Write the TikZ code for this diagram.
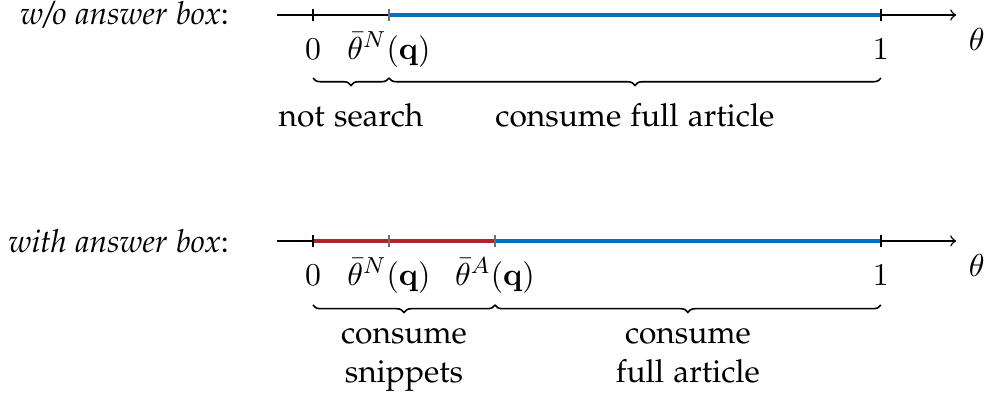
\documentclass[tikz,border=0pt,11pt]{standalone}
\usepackage[T1]{fontenc}
\renewcommand{\rmdefault}{pplx}
\usepackage{xcolor}
\definecolor{fullblue}{RGB}{0,114,189}
\definecolor{snipred}{RGB}{170,40,50}
\definecolor{tickgray}{RGB}{110,110,110}
\usepackage{tikz}
\usetikzlibrary{positioning,decorations.pathreplacing}
\tikzset{
  %% Axis and segments
  axline/.style={draw=black, line width=0.5pt},
  fullseg/.style={draw=fullblue, line width=1.1pt},
  snipseg/.style={draw=snipred, line width=1.1pt},
  %% Ticks and labels
  axtick/.style={draw=black, line width=0.45pt},
  innertick/.style={draw=tickgray, line width=0.45pt},
  ticklbl/.style={anchor=base, inner sep=0pt, yshift=-0.535cm},
  varlbl/.style={anchor=base, inner sep=0pt, yshift=-0.43cm},
  rowlbl/.style={anchor=east, inner sep=0pt},
  %% Braces underneath
  brc/.style={decorate, decoration={brace, mirror, amplitude=0.09cm},
              line width=0.55pt},
  bracelbl/.style={anchor=base, align=center, inner sep=0pt},
}

\begin{document}
\begin{tikzpicture}
\useasboundingbox (0,0) rectangle (11.94,4.836);

%% Row 1: without answer box
\node[rowlbl] (rowA) at (2.78,4.654) {\textit{w/o answer box}:};
\coordinate (startA) at (3.357,4.654);
\coordinate (zeroA)  at (3.794,4.654);
\coordinate (nA)     at (4.715,4.654);
\coordinate (oneA)   at (10.678,4.654);
\coordinate (endA)   at (11.590,4.654);
\draw[axline,->] (startA) -- (endA);
\draw[fullseg] (nA) -- (oneA);
\foreach \p/\s in {zeroA/axtick, nA/innertick, oneA/axtick}
  \draw[\s] ([yshift=-0.075cm]\p) -- ([yshift=0.075cm]\p);
\node[ticklbl] (zeroAl) at (zeroA) {$0$};
\node[ticklbl] (nAl)    at (nA)    {$\bar{\theta}^N(\mathbf{q})$};
\node[ticklbl] (oneAl)  at (oneA)  {$1$};
\node[varlbl]  (thetaA) at (11.84,4.654) {$\theta$};
% braces
\coordinate (bA0) at (3.794,3.890);
\coordinate (bA1) at (4.715,3.890);
\coordinate (bA2) at (10.678,3.890);
\draw[brc] (bA0) -- (bA1);
\draw[brc] (bA1) -- (bA2);
\node[bracelbl] (noSearch) at (4.255,3.297) {not search};
\node[bracelbl] (fullA)    at (7.697,3.297) {consume full article};

%% Row 2: with answer box
\node[rowlbl] (rowB) at (2.78,1.915) {\textit{with answer box}:};
\coordinate (startB) at (3.357,1.915);
\coordinate (zeroB)  at (3.794,1.915);
\coordinate (nB)     at (4.715,1.915);
\coordinate (aB)     at (6.000,1.915);
\coordinate (oneB)   at (10.678,1.915);
\coordinate (endB)   at (11.590,1.915);
\draw[axline,->] (startB) -- (endB);
\draw[snipseg] (zeroB) -- (aB);
\draw[fullseg] (aB) -- (oneB);
\foreach \p/\s in {zeroB/axtick, nB/innertick, aB/innertick, oneB/axtick}
  \draw[\s] ([yshift=-0.075cm]\p) -- ([yshift=0.075cm]\p);
\node[ticklbl] (zeroBl) at (zeroB) {$0$};
\node[ticklbl] (nBl)    at (nB)    {$\bar{\theta}^N(\mathbf{q})$};
\node[ticklbl] (aBl)    at (aB)    {$\bar{\theta}^A(\mathbf{q})$};
\node[ticklbl] (oneBl)  at (oneB)  {$1$};
\node[varlbl]  (thetaB) at (11.84,1.915) {$\theta$};
% braces
\coordinate (bB0) at (3.794,1.139);
\coordinate (bB1) at (6.000,1.139);
\coordinate (bB2) at (10.678,1.139);
\draw[brc] (bB0) -- (bB1);
\draw[brc] (bB1) -- (bB2);
\node[bracelbl] (snipB) at (4.897,0.194) {consume\\snippets};
\node[bracelbl] (fullB) at (8.339,0.194) {consume\\full article};
\end{tikzpicture}
\end{document}
